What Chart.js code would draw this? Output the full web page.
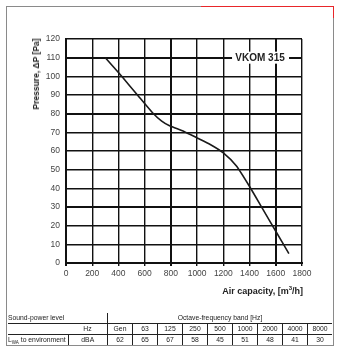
<!DOCTYPE html>
<html>
<head>
<meta charset="utf-8">
<script src="https://cdn.jsdelivr.net/npm/chart.js@4"></script>
<style>
  html, body { margin: 0; padding: 0; background: #fff; }
  body { width: 338px; height: 351px; position: relative; overflow: hidden;
         font-family: "Liberation Sans", Arial, sans-serif; }
  #frame { position: absolute; left: 6px; top: 6px; width: 326px; height: 338px; border: 1px solid #8a8a8a; }
  #red1 { position: absolute; left: 201px; top: 6px; width: 133px; height: 1px; background: #e8262a; z-index: 5; }
  #red2 { position: absolute; left: 333px; top: 6px; width: 1px; height: 12px; background: #e8262a; z-index: 5; }
  #wrap { position: absolute; left: 0; top: 0; width: 338px; height: 305px; }
  .ytitle { position: absolute; left: 36px; top: 74px; transform: translate(-50%, -50%) rotate(-90deg);
            font-weight: bold; font-size: 8.5px; white-space: nowrap; color: #222; }
  .xtitle { position: absolute; right: 35px; top: 286px; font-weight: bold; font-size: 9px; color: #222; white-space: nowrap; }
  table { position: absolute; left: 8px; top: 313px; border-collapse: collapse; font-size: 6.8px; color: #222; }
  td { padding: 0; height: 10px; line-height: 10px; text-align: center; white-space: nowrap; }
  td.v { width: 24px; border-left: 1px solid #222; }
  .bb td { border-bottom: 1px solid #222; }
</style>
</head>
<body>
<div id="frame"></div>
<div id="red1"></div>
<div id="red2"></div>
<div id="wrap"><canvas id="c"></canvas></div>
<div class="ytitle">Pressure, ΔP [Pa]</div>
<div class="xtitle">Air capacity, [m<sup style="font-size:6px;line-height:0">3</sup>/h]</div>
<table id="tbl"></table>
<script>
const model = "VKOM 315"
const airFlow  = [300, 425, 545, 660, 730, 790, 900, 1000, 1100, 1200, 1300, 1400, 1500, 1600, 1700]
const pressure = [110, 100, 90, 80.5, 76, 73.5, 70.5, 67, 63.5, 59, 52, 41, 29, 17, 5]
const xTicks = [0, 200, 400, 600, 800, 1000, 1200, 1400, 1600, 1800]
const yTicks = [0, 10, 20, 30, 40, 50, 60, 70, 80, 90, 100, 110, 120]
const bands  = ["Gen", "63", "125", "250", "500", "1000", "2000", "4000", "8000"]
const levels = [62, 65, 67, 58, 45, 51, 48, 41, 30]

// sound table
const tbl = document.getElementById("tbl")
tbl.innerHTML =
  `<tr class="bb"><td colspan="2" style="text-align:left;width:99px">Sound-power level</td>` +
  `<td colspan="9" style="border-left:1px solid #222">Octave-frequency band [Hz]</td></tr>` +
  `<tr class="bb"><td style="width:60px"></td><td style="width:39px">Hz</td>` +
  bands.map(b => `<td class="v">${b}</td>`).join("") + `</tr>` +
  `<tr><td style="text-align:left">L<sub style="font-size:4.5px;line-height:0">WA</sub> to environment</td>` +
  `<td style="border-left:1px solid #222">dBA</td>` +
  levels.map(v => `<td class="v">${v}</td>`).join("") + `</tr>`

const labelPlugin = {
  id: "modelLabel",
  afterDraw(chart) {
    const { ctx, scales: { x, y } } = chart
    const cx = x.getPixelForValue(1480), cy = y.getPixelForValue(110)
    ctx.save()
    ctx.fillStyle = "#fff"
    ctx.fillRect(cx - 28, cy - 6, 57, 12)
    ctx.fillStyle = "#222"
    ctx.font = "bold 10px 'Liberation Sans', Arial"
    ctx.textAlign = "center"
    ctx.textBaseline = "middle"
    ctx.fillText(model, cx, cy + 1)
    ctx.restore()
  }
}

const thick = v => (v === 0 || v === 800 || v === 1600) ? 2 : 1.4
const thickY = v => (v === 0 || v === 30 || v === 80 || v === 110) ? 2 : 1.4

new Chart(document.getElementById("c"), {
  type: "line",
  data: {
    datasets: [{
      data: airFlow.map((f, i) => ({ x: f, y: pressure[i] })),
      borderColor: "#1a1a1a",
      borderWidth: 1.6,
      pointRadius: 0,
      tension: 0.2,
      fill: false
    }]
  },
  options: {
    responsive: true,
    maintainAspectRatio: false,
    animation: false,
    layout: { padding: { left: 0, right: 36, top: 39, bottom: 0 } },
    plugins: { legend: { display: false }, tooltip: { enabled: false } },
    scales: {
      x: {
        type: "linear", min: 0, max: 1800,
        afterBuildTicks: s => { s.ticks = xTicks.map(v => ({ value: v })) },
        afterFit: s => { s.height = 42 },
        grid: { color: "#111", lineWidth: c => thick(c.tick ? c.tick.value : 0), tickLength: 3 },
        border: { color: "#111", width: 2 },
        ticks: { color: "#444", padding: 3, font: { size: 8.5, family: "'Liberation Sans', Arial" },
                 maxRotation: 0, callback: v => String(v) }
      },
      y: {
        min: 0, max: 120,
        afterBuildTicks: s => { s.ticks = yTicks.map(v => ({ value: v })) },
        afterFit: s => { s.width = 66 },
        grid: { color: "#111", lineWidth: c => thickY(c.tick ? c.tick.value : 0), drawTicks: false },
        border: { color: "#111", width: 2 },
        ticks: { color: "#444", padding: 6, font: { size: 8.5, family: "'Liberation Sans', Arial" } }
      }
    }
  },
  plugins: [labelPlugin]
})
</script>
</body>
</html>
